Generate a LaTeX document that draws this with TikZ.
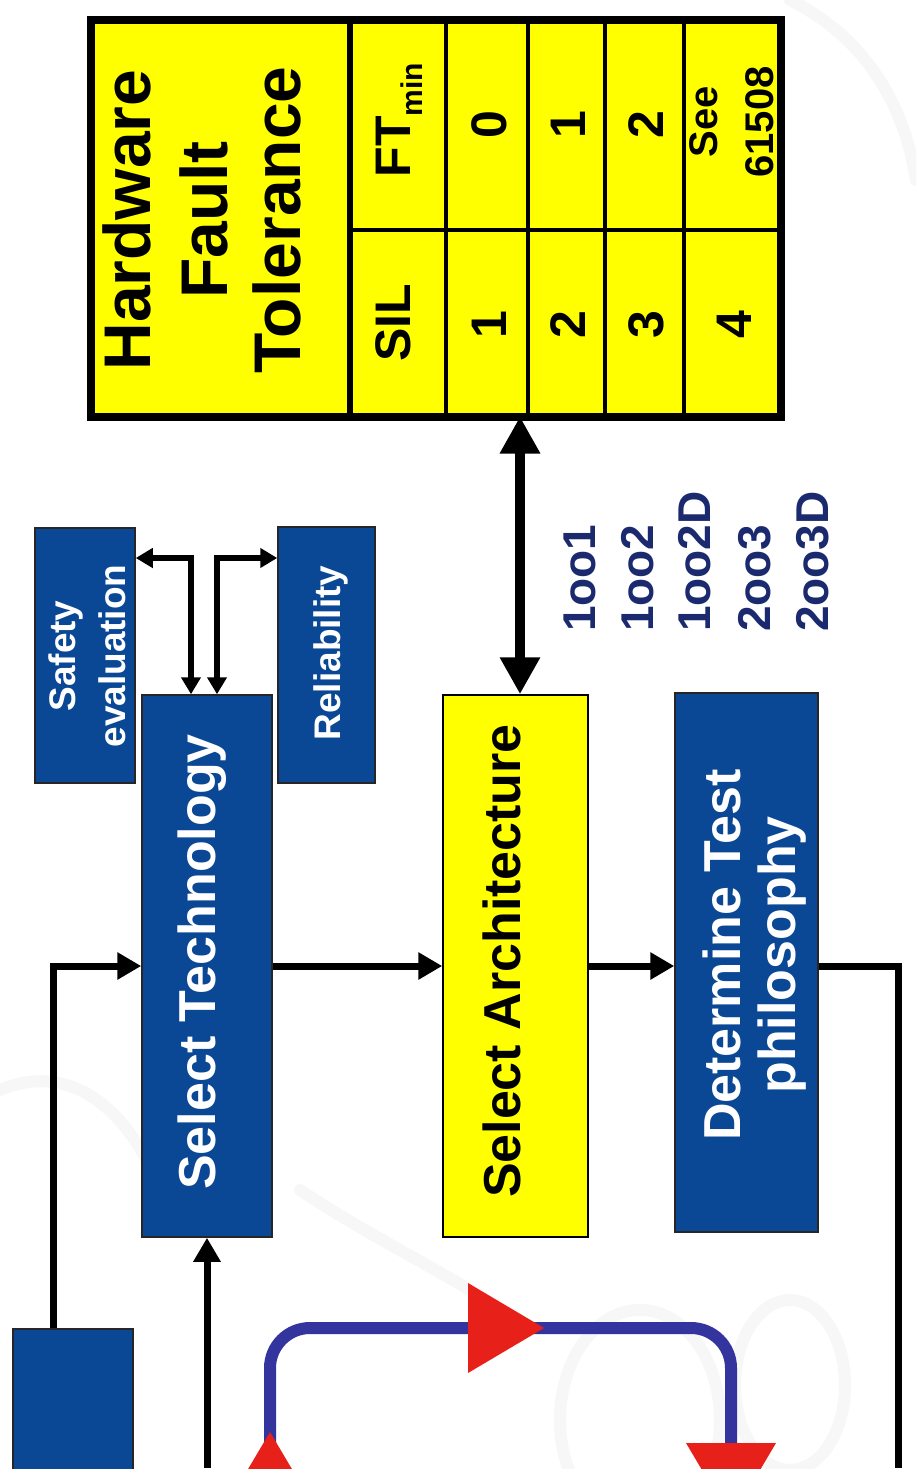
\documentclass[tikz,border=0pt]{standalone}
\usepackage{fontspec}
\setmainfont{Liberation Sans}
\usetikzlibrary{arrows.meta}

\definecolor{boxblue}{RGB}{10,72,150}
\definecolor{hftyellow}{RGB}{255,255,0}
\definecolor{archnavy}{RGB}{27,42,110}
\definecolor{loopblue}{RGB}{52,52,158}
\definecolor{looptip}{RGB}{232,32,26}
\definecolor{watermark}{RGB}{247,247,247}

\begin{document}
\begin{tikzpicture}[x=1pt,y=-1pt,
  bluebox/.style={draw=black!85, line width=1.5pt, fill=boxblue, inner sep=0pt},
  yellowbox/.style={draw=black, line width=1.5pt, fill=hftyellow, inner sep=0pt},
  vtext/.style={rotate=90, anchor=base, inner sep=0pt, font=\bfseries\fontsize{52}{60}\selectfont},
  smalltext/.style={vtext, font=\bfseries\fontsize{37}{44}\selectfont},
  titletext/.style={vtext, font=\bfseries\fontsize{66}{76}\selectfont},
  celltext/.style={vtext, font=\bfseries\fontsize{50}{60}\selectfont},
  seetext/.style={vtext, font=\bfseries\fontsize{40}{46}\selectfont},
  archtext/.style={rotate=90, anchor=base west, inner sep=0pt, text=archnavy,
                   font=\bfseries\fontsize{46}{56}\selectfont},
  flow/.style={line width=7pt, line join=miter, -{Triangle[length=24pt,width=26pt]}},
  plain/.style={line width=7pt, line join=miter},
  twoway/.style={line width=6pt, line join=miter,
                 {Triangle[length=17pt,width=19pt]}-{Triangle[length=17pt,width=19pt]}},
  bigtwoway/.style={line width=10pt,
                 {Triangle[length=37pt,width=38pt]}-{Triangle[length=37pt,width=38pt]}},
  gridline/.style={line width=4.5pt},
  faint/.style={draw=watermark, line width=12pt, line cap=round}
]
% page
\fill[white] (0,0) rectangle (916,1480);
\useasboundingbox (0,0) rectangle (916,1480);

% faint background swirls
\begin{scope}
\clip (0,0) rectangle (916,1468);
\draw[faint] (790,0) .. controls (870,40) and (905,110) .. (916,180);
\draw[faint] (0,1090) .. controls (70,1060) and (130,1110) .. (160,1190);
\draw[faint] (300,1190) .. controls (360,1230) and (420,1260) .. (470,1290);
\draw[faint] (790,1385) ellipse [x radius=55, y radius=85];
\draw[faint] (640,1420) ellipse [x radius=80, y radius=110];
\end{scope}

% ---------- hardware fault tolerance table ----------
\node[draw=black, line width=8pt, fill=hftyellow, inner sep=0pt,
      minimum width=690.5pt, minimum height=396pt] (hft) at (435.75,218.5) {};
\draw[line width=6pt] (350,20.5) -- (350,416.5);
\draw[gridline] (350,230) -- (781,230);
\foreach \gx in {446,528,605,684} \draw[gridline] (\gx,20.5) -- (\gx,416.5);

\node[titletext] (hft1) at (150,220) {Hardware};
\node[titletext] (hft2) at (227,220) {Fault};
\node[titletext] (hft3) at (300,220) {Tolerance};

\node[celltext] (silhead) at (410,323) {SIL};
\node[celltext] (fthead) at (410,120) {FT\raisebox{-12pt}{\fontsize{30}{30}\selectfont min}};

\node[celltext] (sil1) at (506,325) {1};
\node[celltext] (sil2) at (585,325) {2};
\node[celltext] (sil3) at (663,325) {3};
\node[celltext] (sil4) at (751,325) {4};
\node[celltext] (ft1) at (506,125) {0};
\node[celltext] (ft2) at (585,125) {1};
\node[celltext] (ft3) at (663,125) {2};
\node[seetext] (ft4a) at (717,122) {See};
\node[seetext] (ft4b) at (773,122) {61508};

% ---------- process boxes ----------
\node[bluebox, minimum width=100pt, minimum height=255pt] (safety) at (85,655.5) {};
\node[bluebox, minimum width=97pt, minimum height=256pt] (relia) at (326.5,655) {};
\node[bluebox, minimum width=130pt, minimum height=542pt] (tech) at (207,966) {};
\node[yellowbox, minimum width=145pt, minimum height=542pt] (arch) at (515.5,966) {};
\node[bluebox, minimum width=143pt, minimum height=539pt] (test) at (746.5,962.5) {};

\node[smalltext, text=white] (safetyA) at (75,656) {Safety};
\node[smalltext, text=white] (safetyB) at (125,656) {evaluation};
\node[smalltext, text=white] (reliaT) at (340,653) {Reliability};
\node[vtext, text=white] (techT) at (215,962) {Select Technology};
\node[vtext, text=black] (archT) at (520,961) {Select Architecture};
\node[vtext, text=white] (testA) at (740,955) {Determine Test};
\node[vtext, text=white] (testB) at (795,955) {philosophy};

% architecture options
\node[archtext] (opt1) at (595,632) {1oo1};
\node[archtext] (opt2) at (653,632) {1oo2};
\node[archtext] (opt3) at (710,632) {1oo2D};
\node[archtext] (opt4) at (770,632) {2oo3};
\node[archtext] (opt5) at (828,632) {2oo3D};

% ---------- lower part, cut at the bottom edge ----------
\begin{scope}
\clip (0,0) rectangle (916,1468);
\node[bluebox, minimum width=120pt, minimum height=200pt] (src) at (73,1429) {};

% cycle symbol
\draw[loopblue, line width=12pt, rounded corners=40pt]
  (270,1470) -- (270,1328) -- (731,1328) -- (731,1470);
\fill[looptip] (468,1283) -- (544,1328) -- (468,1373) -- cycle;
\fill[looptip] (270,1432) -- (315,1508) -- (225,1508) -- cycle;
\fill[looptip] (686,1443) -- (776,1443) -- (731,1519) -- cycle;
\end{scope}

\coordinate (ret) at (898,1468);
\coordinate (fb) at (207,1468);

% ---------- connectors ----------
\draw[twoway] ([yshift=97.5pt]safety.east) -| ([xshift=-16pt]tech.north);
\draw[twoway] ([yshift=97pt]relia.west) -| ([xshift=10pt]tech.north);
\draw[flow] ([xshift=-20pt]src.north) |- (tech.west);
\draw[flow] (tech.east) -- (arch.west);
\draw[flow] (arch.east) -- (arch.east -| test.west);
\draw[plain] (arch.east -| test.east) -| (ret);
\draw[flow] (fb) -- (tech.south);
\draw[bigtwoway, shorten >=-4pt] ([xshift=4.5pt]arch.north) -- ([xshift=4.5pt]arch.north |- hft.south);
\end{tikzpicture}
\end{document}
